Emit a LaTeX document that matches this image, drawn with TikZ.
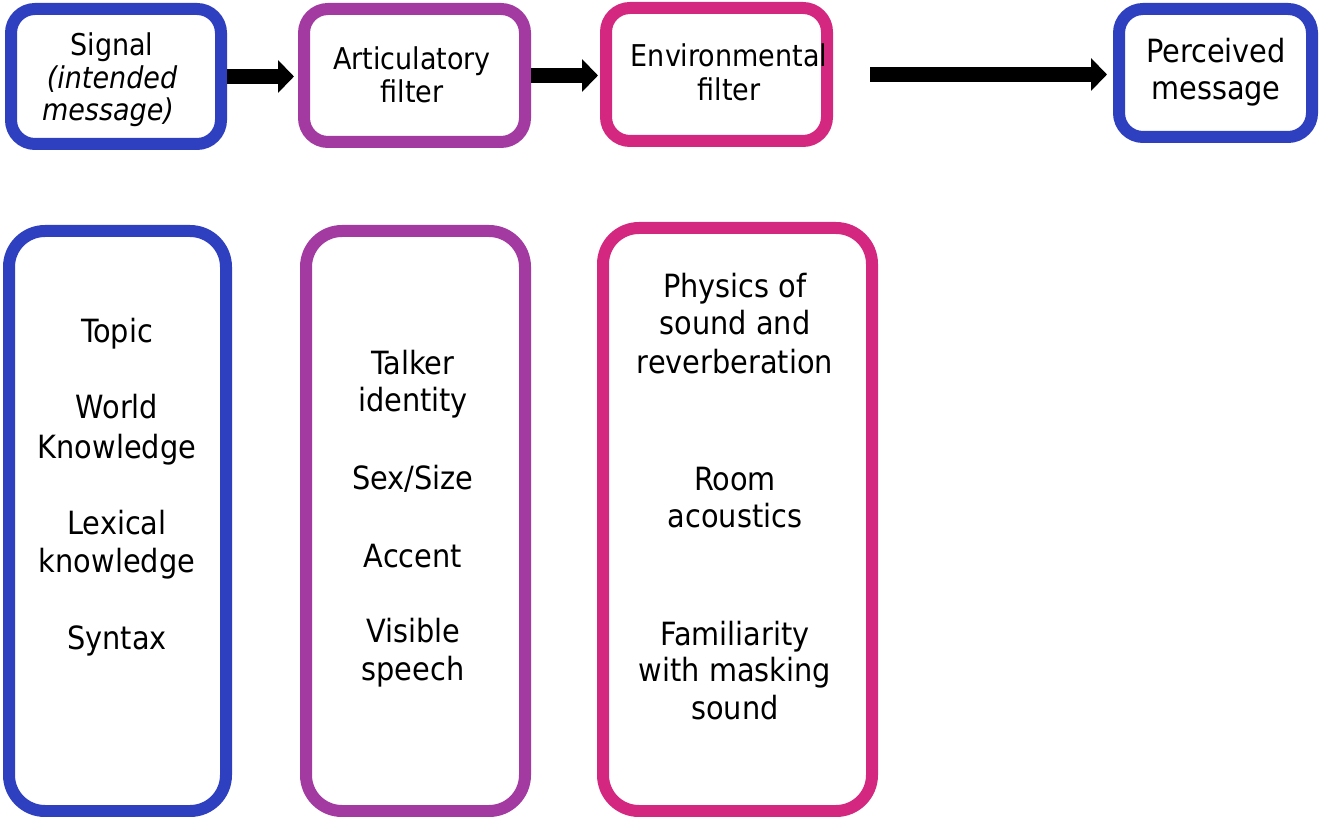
\documentclass[tikz,border=0pt]{standalone}
\usepackage{fontspec}
\setmainfont{DejaVu Sans Condensed}
\usetikzlibrary{arrows.meta}
\definecolor{sigblue}{RGB}{46,64,192}
\definecolor{artpurple}{RGB}{162,58,162}
\definecolor{envpink}{RGB}{212,40,128}

\begin{document}
\begin{tikzpicture}[x=0.5pt,y=-0.5pt,
  box/.style={draw, line width=6pt, fill=white, rounded corners=12pt, inner sep=0pt},
  tall/.style={box, rounded corners=18pt},
  head/.style={font=\fontsize{15}{16.5}\selectfont, anchor=base, inner sep=0pt},
  item/.style={font=\fontsize{16}{19}\selectfont, anchor=base, inner sep=0pt},
  flow/.style={line width=7.5pt, -{Triangle[length=8pt,width=16pt]}}]
\useasboundingbox (0,0) rectangle (1320,817);

% stages of the chain
\node[box, draw=sigblue,    minimum width=105pt,  minimum height=67.5pt] (sig) at (116,76.5) {};
\node[box, draw=artpurple,  minimum width=110.5pt,minimum height=66.5pt] (art) at (414.5,75.5) {};
\node[box, draw=envpink,    minimum width=110.5pt,minimum height=66.5pt] (env) at (716.5,74.5) {};
\node[box, draw=sigblue,    minimum width=96.5pt, minimum height=64pt]   (per) at (1215.5,73) {};

% factor columns
\node[tall, draw=sigblue,   minimum width=108.5pt, minimum height=290pt]   (lang) at (117.5,521) {};
\node[tall, draw=artpurple, minimum width=109.5pt, minimum height=290pt]   (talk) at (415.5,521) {};
\node[tall, draw=envpink,   minimum width=134.5pt, minimum height=291.5pt] (room) at (737.5,519.5) {};

% labels of the chain
\node[head] (sig1) at (112,56) {Signal};
\node[head] (sig2) at (112,89) {\itshape (intended};
\node[head] (sig3) at (108,121) {\itshape message)};
\node[head] (art1) at (412,70) {Articulatory};
\node[head] (art2) at (412,103) {filter};
\node[head] (env1) at (729,67) {Environmental};
\node[head] (env2) at (729,101) {filter};
\node[item] (per1) at (1216,63) {Perceived};
\node[item] (per2) at (1216,100) {message};

% arrows between stages
\draw[flow, shorten >=2pt] (sig.east) -- (sig.east -| art.west);
\draw[flow, shorten >=1pt] (art.east) -- (art.east -| env.west);
\draw[flow, shorten <=18.5pt, shorten >=3pt] (env.east) -- (env.east -| per.west);

% language factors
\node[item] (l1) at (117,343) {Topic};
\node[item] (l2) at (117,418) {World};
\node[item] (l3) at (117,458) {Knowledge};
\node[item] (l4) at (117,534) {Lexical};
\node[item] (l5) at (117,572) {knowledge};
\node[item] (l6) at (117,649) {Syntax};

% talker factors
\node[item] (t1) at (413,375) {Talker};
\node[item] (t2) at (413,412) {identity};
\node[item] (t3) at (413,489) {Sex/Size};
\node[item] (t4) at (413,567) {Accent};
\node[item] (t5) at (413,642) {Visible};
\node[item] (t6) at (413,680) {speech};

% environmental factors
\node[item] (r1) at (735,298) {Physics of};
\node[item] (r2) at (735,335) {sound and};
\node[item] (r3) at (735,374) {reverberation};
\node[item] (r4) at (735,490) {Room};
\node[item] (r5) at (735,527) {acoustics};
\node[item] (r6) at (735,645) {Familiarity};
\node[item] (r7) at (735,681) {with masking};
\node[item] (r8) at (735,719) {sound};
\end{tikzpicture}
\end{document}
